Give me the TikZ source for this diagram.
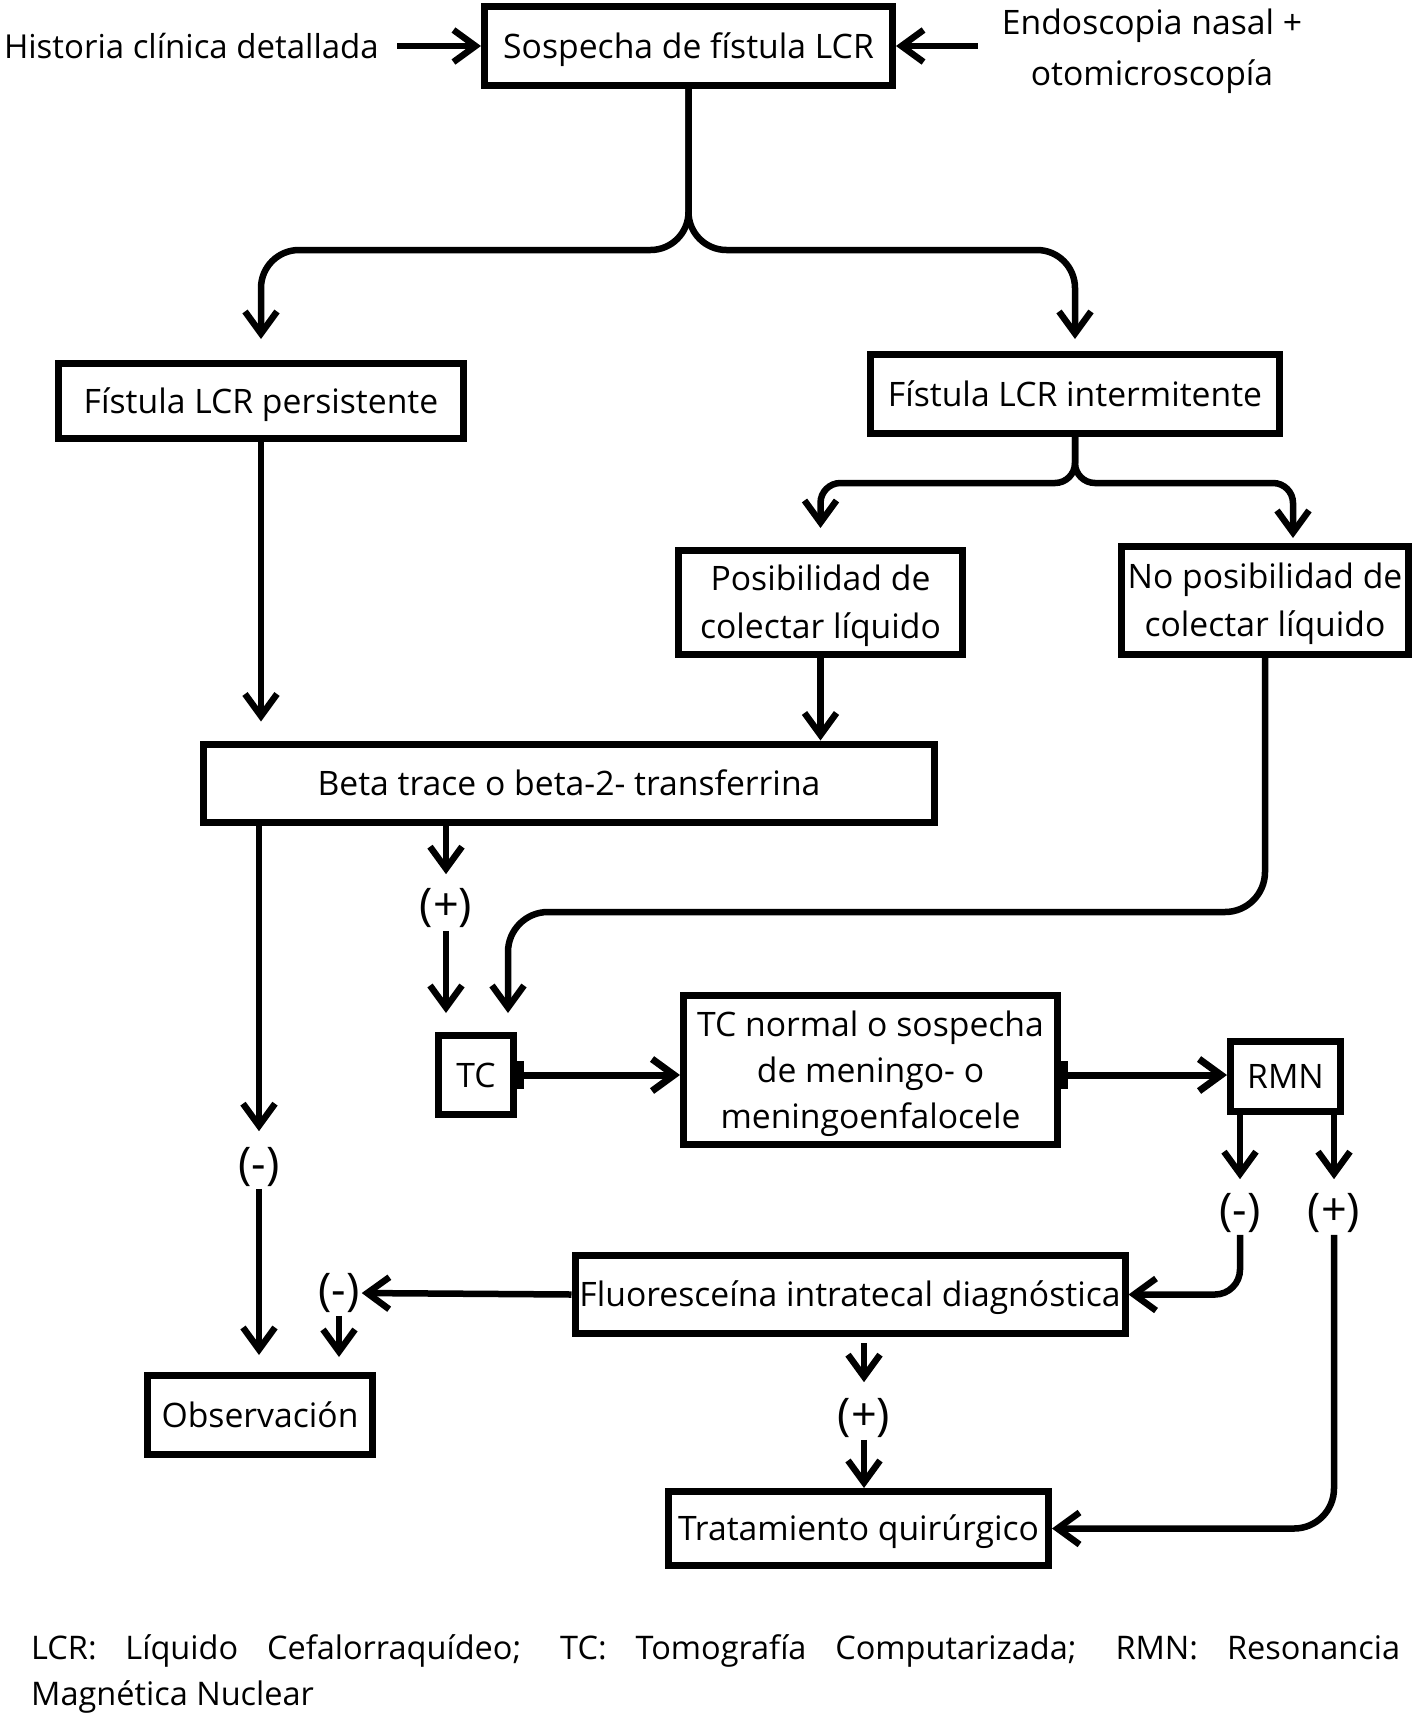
\documentclass[tikz,border=0pt]{standalone}
\usepackage{fontspec}
\setmainfont{Open Sans}
\usetikzlibrary{arrows.meta}
\newcommand\tf{\fontsize{33.7}{48}\selectfont}
\newcommand\lf{\fontsize{45}{50}\selectfont}
\newcommand\ff{\fontsize{32.5}{46}\selectfont}
\newcommand\sst{\rule[-9pt]{0pt}{42pt}}
\begin{document}
\begin{tikzpicture}[x=1pt,y=-1pt,
  box/.style={draw, line width=7pt, inner sep=0pt, align=center, font=\tf},
  txt/.style={inner sep=0pt, font=\tf, align=center},
  lab/.style={inner sep=0pt, font=\lf},
  conn/.style={line width=6.5pt, -{Straight Barb[length=22pt,width=32pt]}},
  barconn/.style={line width=7pt, {Bar[width=28pt,line width=7pt]}-{Straight Barb[length=22pt,width=32pt]}}
]
\useasboundingbox (0,0) rectangle (1417,1717);

% nodes
\node[box, minimum width=408pt, minimum height=79pt] (sosp) at (688.5,46) {\sst Sospecha de fístula LCR};
\node[txt, anchor=east, font=\fontsize{33}{48}\selectfont] (hist) at (379,46) {\sst Historia clínica detallada};
\node[txt, font=\fontsize{33.7}{51}\selectfont] (endo) at (1152,51) {Endoscopia nasal +\\otomicroscopía};
\node[box, minimum width=405pt, minimum height=75pt] (pers) at (261,401) {\sst Fístula LCR persistente};
\node[box, minimum width=409pt, minimum height=79pt] (inter) at (1075,394) {\sst Fístula LCR intermitente};
\node[box, minimum width=284pt, minimum height=104pt] (posib) at (820.5,602.5) {\sst Posibilidad de\\\sst colectar líquido};
\node[box, minimum width=287pt, minimum height=108pt] (noposib) at (1265,600.5) {\sst No posibilidad de\\\sst colectar líquido};
\node[box, minimum width=731pt, minimum height=78pt] (beta) at (569,783) {\sst Beta trace o beta-2- transferrina};
\node[box, minimum width=75pt, minimum height=79pt] (tc) at (476,1075) {\sst TC};
\node[box, minimum width=374pt, minimum height=149pt, font=\fontsize{33.7}{46}\selectfont] (tcn) at (870.5,1070) {\sst TC normal o sospecha\\\sst de meningo- o\\\sst meningoenfalocele};
\node[box, minimum width=110pt, minimum height=70pt] (rmn) at (1285.5,1076.5) {\sst RMN};
\node[box, minimum width=550pt, minimum height=78pt] (fluo) at (850,1294.5) {\sst Fluoresceína intratecal diagnóstica};
\node[box, minimum width=225pt, minimum height=79pt] (obs) at (260,1415) {\sst Observación};
\node[box, minimum width=380pt, minimum height=74pt] (trat) at (858.5,1528.5) {\sst Tratamiento quirúrgico};

% labels
\node[lab] (plusA) at (446,908) {(+)};
\node[lab] (minusA) at (259,1167) {(-)};
\node[lab] (minusB) at (1240,1213) {(-)};
\node[lab] (plusB) at (1334,1213) {(+)};
\node[lab] (minusC) at (339,1293) {(-)};
\node[lab] (plusC) at (864,1418) {(+)};

% footnote
\node[inner sep=0pt, anchor=north west, text width=1369pt, align=justify, font=\ff] (foot) at (31,1634)
  {LCR: Líquido Cefalorraquídeo; TC: Tomografía Computarizada; RMN: Resonancia\linebreak Magnética Nuclear};

% helper coordinates
\coordinate (ya) at (0,250);
\coordinate (yb) at (0,483);
\coordinate (bR) at (1293,483);
\coordinate (bT) at (508,912);

% connectors
\draw[conn, shorten <=18pt] (hist.east) -- (sosp.west);
\draw[conn, shorten <=24pt] (endo.west |- sosp.east) -- (sosp.east);

\draw[conn, rounded corners=38pt, shorten >=21pt] (sosp.south) |- (pers.north |- ya) -- (pers.north);
\draw[conn, rounded corners=38pt, shorten >=12pt] (sosp.south) |- (inter.north |- ya) -- (inter.north);

\draw[conn, rounded corners=20pt, shorten >=19pt] (inter.south) |- (posib.north |- yb) -- (posib.north);
\draw[conn, rounded corners=20pt, shorten >=5pt] (inter.south) |- (bR) -- (bR |- noposib.north);

\draw[conn, shorten >=19pt] (pers.south) -- (pers.south |- beta.north);
\draw[conn] (posib.south) -- (posib.south |- beta.north);

\draw[conn, shorten >=14pt] (plusA |- beta.south) -- (plusA.north);
\draw[conn, shorten >=19pt, shorten <=3pt] (plusA.south) -- (plusA.south |- tc.north);
\draw[conn, rounded corners=40pt, shorten >=19pt] (noposib.south) |- (bT) -- (bT |- tc.north);

\draw[barconn] (tc.east) -- (tc.east -| tcn.west);
\draw[barconn] (tcn.east |- tc.east) -- (rmn.west |- tc.east);

\draw[conn, shorten >=14pt] (minusB |- rmn.south) -- (minusB.north);
\draw[conn, shorten >=14pt] (plusB |- rmn.south) -- (plusB.north);
\draw[conn, rounded corners=25pt, shorten <=2pt] (minusB.south) |- (fluo.east);
\draw[conn, rounded corners=40pt, shorten <=2pt] (plusB.south) |- (trat.east);

\draw[conn, shorten >=2pt] (fluo.west) -- (minusC.east);
\draw[conn, shorten >=15pt, shorten <=3pt] (minusC.south) -- (minusC.south |- obs.north);

\draw[conn, shorten >=16pt] (minusA |- beta.south) -- (minusA.north);
\draw[conn, shorten >=17pt, shorten <=2pt] (minusA.south) -- (minusA.south |- obs.north);

\draw[conn, shorten <=6pt, shorten >=16pt] (plusC |- fluo.south) -- (plusC.north);
\draw[conn, shorten <=2pt] (plusC.south) -- (plusC.south |- trat.north);
\end{tikzpicture}
\end{document}
